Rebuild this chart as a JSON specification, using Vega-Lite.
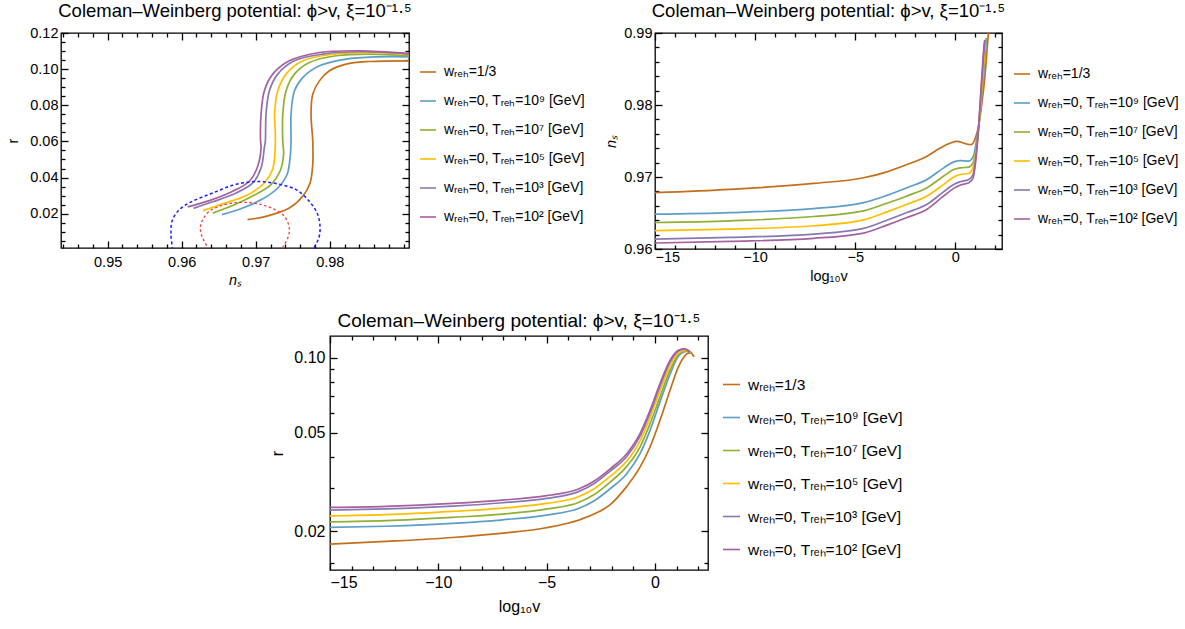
{
  "$schema": "https://vega.github.io/schema/vega-lite/v6.json",
  "background": "white",
  "padding": {"left": 5, "top": 1, "right": 5, "bottom": 5},
  "config": {
    "font": "Liberation Sans",
    "view": {"stroke": "#000", "strokeWidth": 1.3},
    "axis": {"domain": false, "grid": false, "ticks": true, "tickColor": "#000", "tickOpacity": 1, "tickSize": 7, "offset": -7, "tickWidth": 1.3, "zindex": 1, "labelFont": "Liberation Sans", "labelFontSize": 14.5, "labelColor": "#000", "titleFont": "Liberation Sans", "titleFontSize": 14.5, "titleFontWeight": "normal", "titleColor": "#000"},
    "title": {"font": "Liberation Sans", "fontSize": 18.5, "fontWeight": "normal", "color": "#000", "anchor": "middle", "frame": "group", "offset": 4.5},
    "legend": {"title": null, "orient": "none", "symbolType": "stroke", "symbolSize": 256, "symbolStrokeWidth": 1.6, "labelFont": "Liberation Sans", "labelFontSize": 14, "labelColor": "#000", "labelLimit": 400, "labelOffset": 7, "rowPadding": 13}
  },
  "datasets": {
    "p1": [
      {"series": "wᵣₑₕ=1/3", "i": 1, "ns": 0.96889, "r": 0.01667},
      {"series": "wᵣₑₕ=1/3", "i": 2, "ns": 0.97139, "r": 0.0185},
      {"series": "wᵣₑₕ=1/3", "i": 3, "ns": 0.97454, "r": 0.02311},
      {"series": "wᵣₑₕ=1/3", "i": 4, "ns": 0.97635, "r": 0.02961},
      {"series": "wᵣₑₕ=1/3", "i": 5, "ns": 0.97734, "r": 0.037},
      {"series": "wᵣₑₕ=1/3", "i": 6, "ns": 0.9777, "r": 0.04722},
      {"series": "wᵣₑₕ=1/3", "i": 7, "ns": 0.9777, "r": 0.06017},
      {"series": "wᵣₑₕ=1/3", "i": 8, "ns": 0.97747, "r": 0.075},
      {"series": "wᵣₑₕ=1/3", "i": 9, "ns": 0.9777, "r": 0.08611},
      {"series": "wᵣₑₕ=1/3", "i": 10, "ns": 0.9786, "r": 0.0935},
      {"series": "wᵣₑₕ=1/3", "i": 11, "ns": 0.97995, "r": 0.09906},
      {"series": "wᵣₑₕ=1/3", "i": 12, "ns": 0.9822, "r": 0.10278},
      {"series": "wᵣₑₕ=1/3", "i": 13, "ns": 0.98535, "r": 0.10422},
      {"series": "wᵣₑₕ=1/3", "i": 14, "ns": 0.99076, "r": 0.10461},
      {"series": "wᵣₑₕ=0, Tᵣₑₕ=10⁹ [GeV]", "i": 1, "ns": 0.96545, "r": 0.01944},
      {"series": "wᵣₑₕ=0, Tᵣₑₕ=10⁹ [GeV]", "i": 2, "ns": 0.96824, "r": 0.02311},
      {"series": "wᵣₑₕ=0, Tᵣₑₕ=10⁹ [GeV]", "i": 3, "ns": 0.97085, "r": 0.02794},
      {"series": "wᵣₑₕ=0, Tᵣₑₕ=10⁹ [GeV]", "i": 4, "ns": 0.97295, "r": 0.03406},
      {"series": "wᵣₑₕ=0, Tᵣₑₕ=10⁹ [GeV]", "i": 5, "ns": 0.97423, "r": 0.04167},
      {"series": "wᵣₑₕ=0, Tᵣₑₕ=10⁹ [GeV]", "i": 6, "ns": 0.97466, "r": 0.05183},
      {"series": "wᵣₑₕ=0, Tᵣₑₕ=10⁹ [GeV]", "i": 7, "ns": 0.97477, "r": 0.06017},
      {"series": "wᵣₑₕ=0, Tᵣₑₕ=10⁹ [GeV]", "i": 8, "ns": 0.97477, "r": 0.075},
      {"series": "wᵣₑₕ=0, Tᵣₑₕ=10⁹ [GeV]", "i": 9, "ns": 0.97522, "r": 0.08794},
      {"series": "wᵣₑₕ=0, Tᵣₑₕ=10⁹ [GeV]", "i": 10, "ns": 0.97635, "r": 0.09533},
      {"series": "wᵣₑₕ=0, Tᵣₑₕ=10⁹ [GeV]", "i": 11, "ns": 0.9786, "r": 0.10183},
      {"series": "wᵣₑₕ=0, Tᵣₑₕ=10⁹ [GeV]", "i": 12, "ns": 0.9822, "r": 0.10556},
      {"series": "wᵣₑₕ=0, Tᵣₑₕ=10⁹ [GeV]", "i": 13, "ns": 0.98626, "r": 0.10683},
      {"series": "wᵣₑₕ=0, Tᵣₑₕ=10⁹ [GeV]", "i": 14, "ns": 0.99076, "r": 0.10683},
      {"series": "wᵣₑₕ=0, Tᵣₑₕ=10⁷ [GeV]", "i": 1, "ns": 0.96419, "r": 0.02033},
      {"series": "wᵣₑₕ=0, Tᵣₑₕ=10⁷ [GeV]", "i": 2, "ns": 0.96689, "r": 0.0245},
      {"series": "wᵣₑₕ=0, Tᵣₑₕ=10⁷ [GeV]", "i": 3, "ns": 0.96977, "r": 0.03017},
      {"series": "wᵣₑₕ=0, Tᵣₑₕ=10⁷ [GeV]", "i": 4, "ns": 0.97207, "r": 0.03611},
      {"series": "wᵣₑₕ=0, Tᵣₑₕ=10⁷ [GeV]", "i": 5, "ns": 0.97328, "r": 0.0435},
      {"series": "wᵣₑₕ=0, Tᵣₑₕ=10⁷ [GeV]", "i": 6, "ns": 0.97376, "r": 0.05278},
      {"series": "wᵣₑₕ=0, Tᵣₑₕ=10⁷ [GeV]", "i": 7, "ns": 0.97365, "r": 0.06017},
      {"series": "wᵣₑₕ=0, Tᵣₑₕ=10⁷ [GeV]", "i": 8, "ns": 0.97365, "r": 0.075},
      {"series": "wᵣₑₕ=0, Tᵣₑₕ=10⁷ [GeV]", "i": 9, "ns": 0.97409, "r": 0.08794},
      {"series": "wᵣₑₕ=0, Tᵣₑₕ=10⁷ [GeV]", "i": 10, "ns": 0.97522, "r": 0.09722},
      {"series": "wᵣₑₕ=0, Tᵣₑₕ=10⁷ [GeV]", "i": 11, "ns": 0.97724, "r": 0.10367},
      {"series": "wᵣₑₕ=0, Tᵣₑₕ=10⁷ [GeV]", "i": 12, "ns": 0.98085, "r": 0.10739},
      {"series": "wᵣₑₕ=0, Tᵣₑₕ=10⁷ [GeV]", "i": 13, "ns": 0.98535, "r": 0.10833},
      {"series": "wᵣₑₕ=0, Tᵣₑₕ=10⁷ [GeV]", "i": 14, "ns": 0.99076, "r": 0.10739},
      {"series": "wᵣₑₕ=0, Tᵣₑₕ=10⁵ [GeV]", "i": 1, "ns": 0.96288, "r": 0.02167},
      {"series": "wᵣₑₕ=0, Tᵣₑₕ=10⁵ [GeV]", "i": 2, "ns": 0.96554, "r": 0.02544},
      {"series": "wᵣₑₕ=0, Tᵣₑₕ=10⁵ [GeV]", "i": 3, "ns": 0.96889, "r": 0.03033},
      {"series": "wᵣₑₕ=0, Tᵣₑₕ=10⁵ [GeV]", "i": 4, "ns": 0.97105, "r": 0.03656},
      {"series": "wᵣₑₕ=0, Tᵣₑₕ=10⁵ [GeV]", "i": 5, "ns": 0.9723, "r": 0.04489},
      {"series": "wᵣₑₕ=0, Tᵣₑₕ=10⁵ [GeV]", "i": 6, "ns": 0.97262, "r": 0.05572},
      {"series": "wᵣₑₕ=0, Tᵣₑₕ=10⁵ [GeV]", "i": 7, "ns": 0.97265, "r": 0.06389},
      {"series": "wᵣₑₕ=0, Tᵣₑₕ=10⁵ [GeV]", "i": 8, "ns": 0.97255, "r": 0.07572},
      {"series": "wᵣₑₕ=0, Tᵣₑₕ=10⁵ [GeV]", "i": 9, "ns": 0.97297, "r": 0.08794},
      {"series": "wᵣₑₕ=0, Tᵣₑₕ=10⁵ [GeV]", "i": 10, "ns": 0.9741, "r": 0.09722},
      {"series": "wᵣₑₕ=0, Tᵣₑₕ=10⁵ [GeV]", "i": 11, "ns": 0.97635, "r": 0.10461},
      {"series": "wᵣₑₕ=0, Tᵣₑₕ=10⁵ [GeV]", "i": 12, "ns": 0.98018, "r": 0.10811},
      {"series": "wᵣₑₕ=0, Tᵣₑₕ=10⁵ [GeV]", "i": 13, "ns": 0.98518, "r": 0.10906},
      {"series": "wᵣₑₕ=0, Tᵣₑₕ=10⁵ [GeV]", "i": 14, "ns": 0.99072, "r": 0.10833},
      {"series": "wᵣₑₕ=0, Tᵣₑₕ=10³ [GeV]", "i": 1, "ns": 0.9616, "r": 0.02294},
      {"series": "wᵣₑₕ=0, Tᵣₑₕ=10³ [GeV]", "i": 2, "ns": 0.96419, "r": 0.02656},
      {"series": "wᵣₑₕ=0, Tᵣₑₕ=10³ [GeV]", "i": 3, "ns": 0.96734, "r": 0.03144},
      {"series": "wᵣₑₕ=0, Tᵣₑₕ=10³ [GeV]", "i": 4, "ns": 0.9696, "r": 0.037},
      {"series": "wᵣₑₕ=0, Tᵣₑₕ=10³ [GeV]", "i": 5, "ns": 0.97072, "r": 0.04533},
      {"series": "wᵣₑₕ=0, Tᵣₑₕ=10³ [GeV]", "i": 6, "ns": 0.97116, "r": 0.05644},
      {"series": "wᵣₑₕ=0, Tᵣₑₕ=10³ [GeV]", "i": 7, "ns": 0.9713, "r": 0.06017},
      {"series": "wᵣₑₕ=0, Tᵣₑₕ=10³ [GeV]", "i": 8, "ns": 0.97139, "r": 0.075},
      {"series": "wᵣₑₕ=0, Tᵣₑₕ=10³ [GeV]", "i": 9, "ns": 0.97184, "r": 0.08794},
      {"series": "wᵣₑₕ=0, Tᵣₑₕ=10³ [GeV]", "i": 10, "ns": 0.97297, "r": 0.09722},
      {"series": "wᵣₑₕ=0, Tᵣₑₕ=10³ [GeV]", "i": 11, "ns": 0.97522, "r": 0.10461},
      {"series": "wᵣₑₕ=0, Tᵣₑₕ=10³ [GeV]", "i": 12, "ns": 0.97905, "r": 0.10833},
      {"series": "wᵣₑₕ=0, Tᵣₑₕ=10³ [GeV]", "i": 13, "ns": 0.98446, "r": 0.10961},
      {"series": "wᵣₑₕ=0, Tᵣₑₕ=10³ [GeV]", "i": 14, "ns": 0.99076, "r": 0.10833},
      {"series": "wᵣₑₕ=0, Tᵣₑₕ=10² [GeV]", "i": 1, "ns": 0.96081, "r": 0.02378},
      {"series": "wᵣₑₕ=0, Tᵣₑₕ=10² [GeV]", "i": 2, "ns": 0.96373, "r": 0.02722},
      {"series": "wᵣₑₕ=0, Tᵣₑₕ=10² [GeV]", "i": 3, "ns": 0.96689, "r": 0.03239},
      {"series": "wᵣₑₕ=0, Tᵣₑₕ=10² [GeV]", "i": 4, "ns": 0.96914, "r": 0.03794},
      {"series": "wᵣₑₕ=0, Tᵣₑₕ=10² [GeV]", "i": 5, "ns": 0.97027, "r": 0.04628},
      {"series": "wᵣₑₕ=0, Tᵣₑₕ=10² [GeV]", "i": 6, "ns": 0.97072, "r": 0.05644},
      {"series": "wᵣₑₕ=0, Tᵣₑₕ=10² [GeV]", "i": 7, "ns": 0.97065, "r": 0.06017},
      {"series": "wᵣₑₕ=0, Tᵣₑₕ=10² [GeV]", "i": 8, "ns": 0.97072, "r": 0.075},
      {"series": "wᵣₑₕ=0, Tᵣₑₕ=10² [GeV]", "i": 9, "ns": 0.97116, "r": 0.08794},
      {"series": "wᵣₑₕ=0, Tᵣₑₕ=10² [GeV]", "i": 10, "ns": 0.9723, "r": 0.09722},
      {"series": "wᵣₑₕ=0, Tᵣₑₕ=10² [GeV]", "i": 11, "ns": 0.97454, "r": 0.10461},
      {"series": "wᵣₑₕ=0, Tᵣₑₕ=10² [GeV]", "i": 12, "ns": 0.9786, "r": 0.10922},
      {"series": "wᵣₑₕ=0, Tᵣₑₕ=10² [GeV]", "i": 13, "ns": 0.984, "r": 0.11017},
      {"series": "wᵣₑₕ=0, Tᵣₑₕ=10² [GeV]", "i": 14, "ns": 0.99076, "r": 0.10867}
    ],
    "blueEllipse": [
      {"i": 1, "ns": 0.95878, "r": 0.0},
      {"i": 2, "ns": 0.95855, "r": 0.00833},
      {"i": 3, "ns": 0.95869, "r": 0.01572},
      {"i": 4, "ns": 0.95946, "r": 0.02128},
      {"i": 5, "ns": 0.96058, "r": 0.025},
      {"i": 6, "ns": 0.96193, "r": 0.02778},
      {"i": 7, "ns": 0.96419, "r": 0.03144},
      {"i": 8, "ns": 0.96689, "r": 0.03572},
      {"i": 9, "ns": 0.96914, "r": 0.03756},
      {"i": 10, "ns": 0.97095, "r": 0.03767},
      {"i": 11, "ns": 0.97319, "r": 0.03628},
      {"i": 12, "ns": 0.97545, "r": 0.03333},
      {"i": 13, "ns": 0.97724, "r": 0.02683},
      {"i": 14, "ns": 0.97838, "r": 0.01944},
      {"i": 15, "ns": 0.97869, "r": 0.012},
      {"i": 16, "ns": 0.97851, "r": 0.00644},
      {"i": 17, "ns": 0.9777, "r": 0.0}
    ],
    "redEllipse": [
      {"i": 1, "ns": 0.96373, "r": 0.0},
      {"i": 2, "ns": 0.96284, "r": 0.00644},
      {"i": 3, "ns": 0.96251, "r": 0.012},
      {"i": 4, "ns": 0.96284, "r": 0.01667},
      {"i": 5, "ns": 0.96373, "r": 0.02128},
      {"i": 6, "ns": 0.96508, "r": 0.02406},
      {"i": 7, "ns": 0.96689, "r": 0.02589},
      {"i": 8, "ns": 0.96869, "r": 0.02628},
      {"i": 9, "ns": 0.97049, "r": 0.02533},
      {"i": 10, "ns": 0.9723, "r": 0.02278},
      {"i": 11, "ns": 0.97387, "r": 0.0185},
      {"i": 12, "ns": 0.97454, "r": 0.012},
      {"i": 13, "ns": 0.97432, "r": 0.00644},
      {"i": 14, "ns": 0.97342, "r": 0.0}
    ],
    "p2": [
      {"series": "wᵣₑₕ=1/3", "logv": -15, "ns": 0.96782},
      {"series": "wᵣₑₕ=1/3", "logv": -11.25, "ns": 0.96828},
      {"series": "wᵣₑₕ=1/3", "logv": -7.08, "ns": 0.96911},
      {"series": "wᵣₑₕ=1/3", "logv": -4.58, "ns": 0.96989},
      {"series": "wᵣₑₕ=1/3", "logv": -3.415, "ns": 0.97072},
      {"series": "wᵣₑₕ=1/3", "logv": -2.415, "ns": 0.97173},
      {"series": "wᵣₑₕ=1/3", "logv": -1.415, "ns": 0.97289},
      {"series": "wᵣₑₕ=1/3", "logv": -0.75, "ns": 0.97403},
      {"series": "wᵣₑₕ=1/3", "logv": -0.25, "ns": 0.97472},
      {"series": "wᵣₑₕ=1/3", "logv": 0.085, "ns": 0.97496},
      {"series": "wᵣₑₕ=1/3", "logv": 0.5, "ns": 0.97463},
      {"series": "wᵣₑₕ=1/3", "logv": 0.785, "ns": 0.97449},
      {"series": "wᵣₑₕ=1/3", "logv": 1.0, "ns": 0.97541},
      {"series": "wᵣₑₕ=1/3", "logv": 1.17, "ns": 0.97725},
      {"series": "wᵣₑₕ=1/3", "logv": 1.335, "ns": 0.98048},
      {"series": "wᵣₑₕ=1/3", "logv": 1.45, "ns": 0.98324},
      {"series": "wᵣₑₕ=1/3", "logv": 1.55, "ns": 0.98645},
      {"series": "wᵣₑₕ=1/3", "logv": 1.64, "ns": 0.98967},
      {"series": "wᵣₑₕ=1/3", "logv": 1.7, "ns": 0.9915},
      {"series": "wᵣₑₕ=0, Tᵣₑₕ=10⁹ [GeV]", "logv": -15, "ns": 0.96483},
      {"series": "wᵣₑₕ=0, Tᵣₑₕ=10⁹ [GeV]", "logv": -11.25, "ns": 0.96506},
      {"series": "wᵣₑₕ=0, Tᵣₑₕ=10⁹ [GeV]", "logv": -7.08, "ns": 0.96562},
      {"series": "wᵣₑₕ=0, Tᵣₑₕ=10⁹ [GeV]", "logv": -4.58, "ns": 0.96644},
      {"series": "wᵣₑₕ=0, Tᵣₑₕ=10⁹ [GeV]", "logv": -3.415, "ns": 0.96745},
      {"series": "wᵣₑₕ=0, Tᵣₑₕ=10⁹ [GeV]", "logv": -2.415, "ns": 0.96851},
      {"series": "wᵣₑₕ=0, Tᵣₑₕ=10⁹ [GeV]", "logv": -1.415, "ns": 0.96966},
      {"series": "wᵣₑₕ=0, Tᵣₑₕ=10⁹ [GeV]", "logv": -0.58, "ns": 0.97127},
      {"series": "wᵣₑₕ=0, Tᵣₑₕ=10⁹ [GeV]", "logv": -0.08, "ns": 0.9721},
      {"series": "wᵣₑₕ=0, Tᵣₑₕ=10⁹ [GeV]", "logv": 0.25, "ns": 0.97228},
      {"series": "wᵣₑₕ=0, Tᵣₑₕ=10⁹ [GeV]", "logv": 0.67, "ns": 0.9722},
      {"series": "wᵣₑₕ=0, Tᵣₑₕ=10⁹ [GeV]", "logv": 0.9, "ns": 0.97285},
      {"series": "wᵣₑₕ=0, Tᵣₑₕ=10⁹ [GeV]", "logv": 1.05, "ns": 0.975},
      {"series": "wᵣₑₕ=0, Tᵣₑₕ=10⁹ [GeV]", "logv": 1.17, "ns": 0.9772},
      {"series": "wᵣₑₕ=0, Tᵣₑₕ=10⁹ [GeV]", "logv": 1.3, "ns": 0.9805},
      {"series": "wᵣₑₕ=0, Tᵣₑₕ=10⁹ [GeV]", "logv": 1.42, "ns": 0.9845},
      {"series": "wᵣₑₕ=0, Tᵣₑₕ=10⁹ [GeV]", "logv": 1.5, "ns": 0.9875},
      {"series": "wᵣₑₕ=0, Tᵣₑₕ=10⁹ [GeV]", "logv": 1.56, "ns": 0.9893},
      {"series": "wᵣₑₕ=0, Tᵣₑₕ=10⁷ [GeV]", "logv": -15, "ns": 0.96368},
      {"series": "wᵣₑₕ=0, Tᵣₑₕ=10⁷ [GeV]", "logv": -11.25, "ns": 0.96392},
      {"series": "wᵣₑₕ=0, Tᵣₑₕ=10⁷ [GeV]", "logv": -7.08, "ns": 0.96451},
      {"series": "wᵣₑₕ=0, Tᵣₑₕ=10⁷ [GeV]", "logv": -4.58, "ns": 0.9653},
      {"series": "wᵣₑₕ=0, Tᵣₑₕ=10⁷ [GeV]", "logv": -3.415, "ns": 0.96636},
      {"series": "wᵣₑₕ=0, Tᵣₑₕ=10⁷ [GeV]", "logv": -2.415, "ns": 0.96737},
      {"series": "wᵣₑₕ=0, Tᵣₑₕ=10⁷ [GeV]", "logv": -1.415, "ns": 0.96851},
      {"series": "wᵣₑₕ=0, Tᵣₑₕ=10⁷ [GeV]", "logv": -0.58, "ns": 0.97013},
      {"series": "wᵣₑₕ=0, Tᵣₑₕ=10⁷ [GeV]", "logv": -0.08, "ns": 0.97104},
      {"series": "wᵣₑₕ=0, Tᵣₑₕ=10⁷ [GeV]", "logv": 0.25, "ns": 0.97127},
      {"series": "wᵣₑₕ=0, Tᵣₑₕ=10⁷ [GeV]", "logv": 0.67, "ns": 0.97137},
      {"series": "wᵣₑₕ=0, Tᵣₑₕ=10⁷ [GeV]", "logv": 0.885, "ns": 0.972},
      {"series": "wᵣₑₕ=0, Tᵣₑₕ=10⁷ [GeV]", "logv": 1.035, "ns": 0.9738},
      {"series": "wᵣₑₕ=0, Tᵣₑₕ=10⁷ [GeV]", "logv": 1.17, "ns": 0.977},
      {"series": "wᵣₑₕ=0, Tᵣₑₕ=10⁷ [GeV]", "logv": 1.3, "ns": 0.981},
      {"series": "wᵣₑₕ=0, Tᵣₑₕ=10⁷ [GeV]", "logv": 1.42, "ns": 0.9855},
      {"series": "wᵣₑₕ=0, Tᵣₑₕ=10⁷ [GeV]", "logv": 1.5, "ns": 0.9885},
      {"series": "wᵣₑₕ=0, Tᵣₑₕ=10⁷ [GeV]", "logv": 1.53, "ns": 0.9893},
      {"series": "wᵣₑₕ=0, Tᵣₑₕ=10⁵ [GeV]", "logv": -15, "ns": 0.96254},
      {"series": "wᵣₑₕ=0, Tᵣₑₕ=10⁵ [GeV]", "logv": -11.25, "ns": 0.96276},
      {"series": "wᵣₑₕ=0, Tᵣₑₕ=10⁵ [GeV]", "logv": -7.08, "ns": 0.96323},
      {"series": "wᵣₑₕ=0, Tᵣₑₕ=10⁵ [GeV]", "logv": -4.58, "ns": 0.96405},
      {"series": "wᵣₑₕ=0, Tᵣₑₕ=10⁵ [GeV]", "logv": -3.415, "ns": 0.96515},
      {"series": "wᵣₑₕ=0, Tᵣₑₕ=10⁵ [GeV]", "logv": -2.415, "ns": 0.96621},
      {"series": "wᵣₑₕ=0, Tᵣₑₕ=10⁵ [GeV]", "logv": -1.415, "ns": 0.96737},
      {"series": "wᵣₑₕ=0, Tᵣₑₕ=10⁵ [GeV]", "logv": -0.58, "ns": 0.96897},
      {"series": "wᵣₑₕ=0, Tᵣₑₕ=10⁵ [GeV]", "logv": -0.08, "ns": 0.96999},
      {"series": "wᵣₑₕ=0, Tᵣₑₕ=10⁵ [GeV]", "logv": 0.25, "ns": 0.97035},
      {"series": "wᵣₑₕ=0, Tᵣₑₕ=10⁵ [GeV]", "logv": 0.67, "ns": 0.97049},
      {"series": "wᵣₑₕ=0, Tᵣₑₕ=10⁵ [GeV]", "logv": 0.885, "ns": 0.9713},
      {"series": "wᵣₑₕ=0, Tᵣₑₕ=10⁵ [GeV]", "logv": 1.035, "ns": 0.9736},
      {"series": "wᵣₑₕ=0, Tᵣₑₕ=10⁵ [GeV]", "logv": 1.17, "ns": 0.977},
      {"series": "wᵣₑₕ=0, Tᵣₑₕ=10⁵ [GeV]", "logv": 1.3, "ns": 0.9815},
      {"series": "wᵣₑₕ=0, Tᵣₑₕ=10⁵ [GeV]", "logv": 1.42, "ns": 0.9862},
      {"series": "wᵣₑₕ=0, Tᵣₑₕ=10⁵ [GeV]", "logv": 1.5, "ns": 0.9892},
      {"series": "wᵣₑₕ=0, Tᵣₑₕ=10³ [GeV]", "logv": -15, "ns": 0.96138},
      {"series": "wᵣₑₕ=0, Tᵣₑₕ=10³ [GeV]", "logv": -11.25, "ns": 0.96161},
      {"series": "wᵣₑₕ=0, Tᵣₑₕ=10³ [GeV]", "logv": -7.08, "ns": 0.96207},
      {"series": "wᵣₑₕ=0, Tᵣₑₕ=10³ [GeV]", "logv": -4.58, "ns": 0.96286},
      {"series": "wᵣₑₕ=0, Tᵣₑₕ=10³ [GeV]", "logv": -3.415, "ns": 0.964},
      {"series": "wᵣₑₕ=0, Tᵣₑₕ=10³ [GeV]", "logv": -2.415, "ns": 0.96506},
      {"series": "wᵣₑₕ=0, Tᵣₑₕ=10³ [GeV]", "logv": -1.415, "ns": 0.96621},
      {"series": "wᵣₑₕ=0, Tᵣₑₕ=10³ [GeV]", "logv": -0.58, "ns": 0.96796},
      {"series": "wᵣₑₕ=0, Tᵣₑₕ=10³ [GeV]", "logv": -0.08, "ns": 0.96897},
      {"series": "wᵣₑₕ=0, Tᵣₑₕ=10³ [GeV]", "logv": 0.25, "ns": 0.96934},
      {"series": "wᵣₑₕ=0, Tᵣₑₕ=10³ [GeV]", "logv": 0.67, "ns": 0.96966},
      {"series": "wᵣₑₕ=0, Tᵣₑₕ=10³ [GeV]", "logv": 0.885, "ns": 0.97035},
      {"series": "wᵣₑₕ=0, Tᵣₑₕ=10³ [GeV]", "logv": 1.035, "ns": 0.9731},
      {"series": "wᵣₑₕ=0, Tᵣₑₕ=10³ [GeV]", "logv": 1.17, "ns": 0.97725},
      {"series": "wᵣₑₕ=0, Tᵣₑₕ=10³ [GeV]", "logv": 1.3, "ns": 0.9825},
      {"series": "wᵣₑₕ=0, Tᵣₑₕ=10³ [GeV]", "logv": 1.42, "ns": 0.9872},
      {"series": "wᵣₑₕ=0, Tᵣₑₕ=10³ [GeV]", "logv": 1.47, "ns": 0.989},
      {"series": "wᵣₑₕ=0, Tᵣₑₕ=10² [GeV]", "logv": -15, "ns": 0.96083},
      {"series": "wᵣₑₕ=0, Tᵣₑₕ=10² [GeV]", "logv": -11.25, "ns": 0.96106},
      {"series": "wᵣₑₕ=0, Tᵣₑₕ=10² [GeV]", "logv": -7.08, "ns": 0.96148},
      {"series": "wᵣₑₕ=0, Tᵣₑₕ=10² [GeV]", "logv": -4.58, "ns": 0.96221},
      {"series": "wᵣₑₕ=0, Tᵣₑₕ=10² [GeV]", "logv": -3.415, "ns": 0.96332},
      {"series": "wᵣₑₕ=0, Tᵣₑₕ=10² [GeV]", "logv": -2.415, "ns": 0.96437},
      {"series": "wᵣₑₕ=0, Tᵣₑₕ=10² [GeV]", "logv": -1.415, "ns": 0.96552},
      {"series": "wᵣₑₕ=0, Tᵣₑₕ=10² [GeV]", "logv": -0.58, "ns": 0.96737},
      {"series": "wᵣₑₕ=0, Tᵣₑₕ=10² [GeV]", "logv": -0.08, "ns": 0.96842},
      {"series": "wᵣₑₕ=0, Tᵣₑₕ=10² [GeV]", "logv": 0.25, "ns": 0.96889},
      {"series": "wᵣₑₕ=0, Tᵣₑₕ=10² [GeV]", "logv": 0.67, "ns": 0.9692},
      {"series": "wᵣₑₕ=0, Tᵣₑₕ=10² [GeV]", "logv": 0.885, "ns": 0.96989},
      {"series": "wᵣₑₕ=0, Tᵣₑₕ=10² [GeV]", "logv": 1.035, "ns": 0.97265},
      {"series": "wᵣₑₕ=0, Tᵣₑₕ=10² [GeV]", "logv": 1.17, "ns": 0.97725},
      {"series": "wᵣₑₕ=0, Tᵣₑₕ=10² [GeV]", "logv": 1.3, "ns": 0.983},
      {"series": "wᵣₑₕ=0, Tᵣₑₕ=10² [GeV]", "logv": 1.42, "ns": 0.9878},
      {"series": "wᵣₑₕ=0, Tᵣₑₕ=10² [GeV]", "logv": 1.47, "ns": 0.989}
    ],
    "p3": [
      {"series": "wᵣₑₕ=1/3", "logv": -15, "r": 0.01778},
      {"series": "wᵣₑₕ=1/3", "logv": -12.42, "r": 0.01824},
      {"series": "wᵣₑₕ=1/3", "logv": -9.34, "r": 0.01892},
      {"series": "wᵣₑₕ=1/3", "logv": -7.02, "r": 0.0197},
      {"series": "wᵣₑₕ=1/3", "logv": -5.01, "r": 0.0207},
      {"series": "wᵣₑₕ=1/3", "logv": -3.47, "r": 0.0223},
      {"series": "wᵣₑₕ=1/3", "logv": -2.55, "r": 0.0241},
      {"series": "wᵣₑₕ=1/3", "logv": -2.08, "r": 0.0256},
      {"series": "wᵣₑₕ=1/3", "logv": -1.31, "r": 0.0303},
      {"series": "wᵣₑₕ=1/3", "logv": -0.695, "r": 0.0362},
      {"series": "wᵣₑₕ=1/3", "logv": -0.23, "r": 0.04363},
      {"series": "wᵣₑₕ=1/3", "logv": 0.23, "r": 0.05588},
      {"series": "wᵣₑₕ=1/3", "logv": 0.695, "r": 0.07384},
      {"series": "wᵣₑₕ=1/3", "logv": 1.08, "r": 0.0917},
      {"series": "wᵣₑₕ=1/3", "logv": 1.34, "r": 0.1006},
      {"series": "wᵣₑₕ=1/3", "logv": 1.54, "r": 0.1044},
      {"series": "wᵣₑₕ=1/3", "logv": 1.66, "r": 0.1045},
      {"series": "wᵣₑₕ=1/3", "logv": 1.77, "r": 0.1021},
      {"series": "wᵣₑₕ=1/3", "logv": 1.82, "r": 0.101},
      {"series": "wᵣₑₕ=0, Tᵣₑₕ=10⁹ [GeV]", "logv": -15, "r": 0.02077},
      {"series": "wᵣₑₕ=0, Tᵣₑₕ=10⁹ [GeV]", "logv": -12.42, "r": 0.021},
      {"series": "wᵣₑₕ=0, Tᵣₑₕ=10⁹ [GeV]", "logv": -9.34, "r": 0.02155},
      {"series": "wᵣₑₕ=0, Tᵣₑₕ=10⁹ [GeV]", "logv": -7.02, "r": 0.02229},
      {"series": "wᵣₑₕ=0, Tᵣₑₕ=10⁹ [GeV]", "logv": -5.01, "r": 0.02328},
      {"series": "wᵣₑₕ=0, Tᵣₑₕ=10⁹ [GeV]", "logv": -3.5, "r": 0.02479},
      {"series": "wᵣₑₕ=0, Tᵣₑₕ=10⁹ [GeV]", "logv": -2.8, "r": 0.02659},
      {"series": "wᵣₑₕ=0, Tᵣₑₕ=10⁹ [GeV]", "logv": -2.08, "r": 0.02965},
      {"series": "wᵣₑₕ=0, Tᵣₑₕ=10⁹ [GeV]", "logv": -1.31, "r": 0.03405},
      {"series": "wᵣₑₕ=0, Tᵣₑₕ=10⁹ [GeV]", "logv": -0.695, "r": 0.04102},
      {"series": "wᵣₑₕ=0, Tᵣₑₕ=10⁹ [GeV]", "logv": -0.23, "r": 0.05093},
      {"series": "wᵣₑₕ=0, Tᵣₑₕ=10⁹ [GeV]", "logv": 0.23, "r": 0.0663},
      {"series": "wᵣₑₕ=0, Tᵣₑₕ=10⁹ [GeV]", "logv": 0.695, "r": 0.08564},
      {"series": "wᵣₑₕ=0, Tᵣₑₕ=10⁹ [GeV]", "logv": 1.08, "r": 0.1013},
      {"series": "wᵣₑₕ=0, Tᵣₑₕ=10⁹ [GeV]", "logv": 1.34, "r": 0.1054},
      {"series": "wᵣₑₕ=0, Tᵣₑₕ=10⁹ [GeV]", "logv": 1.54, "r": 0.1062},
      {"series": "wᵣₑₕ=0, Tᵣₑₕ=10⁹ [GeV]", "logv": 1.72, "r": 0.1044},
      {"series": "wᵣₑₕ=0, Tᵣₑₕ=10⁷ [GeV]", "logv": -15, "r": 0.02188},
      {"series": "wᵣₑₕ=0, Tᵣₑₕ=10⁷ [GeV]", "logv": -12.42, "r": 0.02212},
      {"series": "wᵣₑₕ=0, Tᵣₑₕ=10⁷ [GeV]", "logv": -9.34, "r": 0.0228},
      {"series": "wᵣₑₕ=0, Tᵣₑₕ=10⁷ [GeV]", "logv": -7.02, "r": 0.0235},
      {"series": "wᵣₑₕ=0, Tᵣₑₕ=10⁷ [GeV]", "logv": -5.01, "r": 0.0246},
      {"series": "wᵣₑₕ=0, Tᵣₑₕ=10⁷ [GeV]", "logv": -3.5, "r": 0.02624},
      {"series": "wᵣₑₕ=0, Tᵣₑₕ=10⁷ [GeV]", "logv": -2.8, "r": 0.02819},
      {"series": "wᵣₑₕ=0, Tᵣₑₕ=10⁷ [GeV]", "logv": -2.08, "r": 0.03153},
      {"series": "wᵣₑₕ=0, Tᵣₑₕ=10⁷ [GeV]", "logv": -1.31, "r": 0.03648},
      {"series": "wᵣₑₕ=0, Tᵣₑₕ=10⁷ [GeV]", "logv": -0.695, "r": 0.04363},
      {"series": "wᵣₑₕ=0, Tᵣₑₕ=10⁷ [GeV]", "logv": -0.23, "r": 0.05418},
      {"series": "wᵣₑₕ=0, Tᵣₑₕ=10⁷ [GeV]", "logv": 0.23, "r": 0.06941},
      {"series": "wᵣₑₕ=0, Tᵣₑₕ=10⁷ [GeV]", "logv": 0.695, "r": 0.08889},
      {"series": "wᵣₑₕ=0, Tᵣₑₕ=10⁷ [GeV]", "logv": 1.08, "r": 0.1031},
      {"series": "wᵣₑₕ=0, Tᵣₑₕ=10⁷ [GeV]", "logv": 1.34, "r": 0.1064},
      {"series": "wᵣₑₕ=0, Tᵣₑₕ=10⁷ [GeV]", "logv": 1.54, "r": 0.1064},
      {"series": "wᵣₑₕ=0, Tᵣₑₕ=10⁷ [GeV]", "logv": 1.68, "r": 0.1048},
      {"series": "wᵣₑₕ=0, Tᵣₑₕ=10⁵ [GeV]", "logv": -15, "r": 0.02312},
      {"series": "wᵣₑₕ=0, Tᵣₑₕ=10⁵ [GeV]", "logv": -12.42, "r": 0.02337},
      {"series": "wᵣₑₕ=0, Tᵣₑₕ=10⁵ [GeV]", "logv": -9.34, "r": 0.0241},
      {"series": "wᵣₑₕ=0, Tᵣₑₕ=10⁵ [GeV]", "logv": -7.02, "r": 0.02483},
      {"series": "wᵣₑₕ=0, Tᵣₑₕ=10⁵ [GeV]", "logv": -5.01, "r": 0.02594},
      {"series": "wᵣₑₕ=0, Tᵣₑₕ=10⁵ [GeV]", "logv": -3.5, "r": 0.02766},
      {"series": "wᵣₑₕ=0, Tᵣₑₕ=10⁵ [GeV]", "logv": -2.8, "r": 0.02972},
      {"series": "wᵣₑₕ=0, Tᵣₑₕ=10⁵ [GeV]", "logv": -2.08, "r": 0.03322},
      {"series": "wᵣₑₕ=0, Tᵣₑₕ=10⁵ [GeV]", "logv": -1.31, "r": 0.03831},
      {"series": "wᵣₑₕ=0, Tᵣₑₕ=10⁵ [GeV]", "logv": -0.695, "r": 0.04613},
      {"series": "wᵣₑₕ=0, Tᵣₑₕ=10⁵ [GeV]", "logv": -0.23, "r": 0.05727},
      {"series": "wᵣₑₕ=0, Tᵣₑₕ=10⁵ [GeV]", "logv": 0.23, "r": 0.07338},
      {"series": "wᵣₑₕ=0, Tᵣₑₕ=10⁵ [GeV]", "logv": 0.695, "r": 0.09227},
      {"series": "wᵣₑₕ=0, Tᵣₑₕ=10⁵ [GeV]", "logv": 1.08, "r": 0.1044},
      {"series": "wᵣₑₕ=0, Tᵣₑₕ=10⁵ [GeV]", "logv": 1.34, "r": 0.1071},
      {"series": "wᵣₑₕ=0, Tᵣₑₕ=10⁵ [GeV]", "logv": 1.54, "r": 0.1068},
      {"series": "wᵣₑₕ=0, Tᵣₑₕ=10⁵ [GeV]", "logv": 1.66, "r": 0.1053},
      {"series": "wᵣₑₕ=0, Tᵣₑₕ=10³ [GeV]", "logv": -15, "r": 0.02438},
      {"series": "wᵣₑₕ=0, Tᵣₑₕ=10³ [GeV]", "logv": -12.42, "r": 0.02465},
      {"series": "wᵣₑₕ=0, Tᵣₑₕ=10³ [GeV]", "logv": -9.34, "r": 0.0253},
      {"series": "wᵣₑₕ=0, Tᵣₑₕ=10³ [GeV]", "logv": -7.02, "r": 0.0261},
      {"series": "wᵣₑₕ=0, Tᵣₑₕ=10³ [GeV]", "logv": -5.01, "r": 0.02716},
      {"series": "wᵣₑₕ=0, Tᵣₑₕ=10³ [GeV]", "logv": -3.5, "r": 0.029},
      {"series": "wᵣₑₕ=0, Tᵣₑₕ=10³ [GeV]", "logv": -2.8, "r": 0.03119},
      {"series": "wᵣₑₕ=0, Tᵣₑₕ=10³ [GeV]", "logv": -2.08, "r": 0.03491},
      {"series": "wᵣₑₕ=0, Tᵣₑₕ=10³ [GeV]", "logv": -1.31, "r": 0.03999},
      {"series": "wᵣₑₕ=0, Tᵣₑₕ=10³ [GeV]", "logv": -0.695, "r": 0.04817},
      {"series": "wᵣₑₕ=0, Tᵣₑₕ=10³ [GeV]", "logv": -0.23, "r": 0.0598},
      {"series": "wᵣₑₕ=0, Tᵣₑₕ=10³ [GeV]", "logv": 0.23, "r": 0.07662},
      {"series": "wᵣₑₕ=0, Tᵣₑₕ=10³ [GeV]", "logv": 0.695, "r": 0.09575},
      {"series": "wᵣₑₕ=0, Tᵣₑₕ=10³ [GeV]", "logv": 1.08, "r": 0.1064},
      {"series": "wᵣₑₕ=0, Tᵣₑₕ=10³ [GeV]", "logv": 1.34, "r": 0.1084},
      {"series": "wᵣₑₕ=0, Tᵣₑₕ=10³ [GeV]", "logv": 1.54, "r": 0.107},
      {"series": "wᵣₑₕ=0, Tᵣₑₕ=10³ [GeV]", "logv": 1.62, "r": 0.1055},
      {"series": "wᵣₑₕ=0, Tᵣₑₕ=10² [GeV]", "logv": -15, "r": 0.025},
      {"series": "wᵣₑₕ=0, Tᵣₑₕ=10² [GeV]", "logv": -12.42, "r": 0.02525},
      {"series": "wᵣₑₕ=0, Tᵣₑₕ=10² [GeV]", "logv": -9.34, "r": 0.02594},
      {"series": "wᵣₑₕ=0, Tᵣₑₕ=10² [GeV]", "logv": -7.02, "r": 0.02676},
      {"series": "wᵣₑₕ=0, Tᵣₑₕ=10² [GeV]", "logv": -5.01, "r": 0.02786},
      {"series": "wᵣₑₕ=0, Tᵣₑₕ=10² [GeV]", "logv": -3.5, "r": 0.02971},
      {"series": "wᵣₑₕ=0, Tᵣₑₕ=10² [GeV]", "logv": -2.8, "r": 0.03192},
      {"series": "wᵣₑₕ=0, Tᵣₑₕ=10² [GeV]", "logv": -2.08, "r": 0.03567},
      {"series": "wᵣₑₕ=0, Tᵣₑₕ=10² [GeV]", "logv": -1.31, "r": 0.04102},
      {"series": "wᵣₑₕ=0, Tᵣₑₕ=10² [GeV]", "logv": -0.695, "r": 0.04937},
      {"series": "wᵣₑₕ=0, Tᵣₑₕ=10² [GeV]", "logv": -0.23, "r": 0.06132},
      {"series": "wᵣₑₕ=0, Tᵣₑₕ=10² [GeV]", "logv": 0.23, "r": 0.07855},
      {"series": "wᵣₑₕ=0, Tᵣₑₕ=10² [GeV]", "logv": 0.695, "r": 0.09755},
      {"series": "wᵣₑₕ=0, Tᵣₑₕ=10² [GeV]", "logv": 1.08, "r": 0.1071},
      {"series": "wᵣₑₕ=0, Tᵣₑₕ=10² [GeV]", "logv": 1.34, "r": 0.1087},
      {"series": "wᵣₑₕ=0, Tᵣₑₕ=10² [GeV]", "logv": 1.54, "r": 0.1068},
      {"series": "wᵣₑₕ=0, Tᵣₑₕ=10² [GeV]", "logv": 1.6, "r": 0.1052}
    ]
  },
  "resolve": {"scale": {"color": "independent"}, "legend": {"color": "independent"}},
  "spacing": 23,
  "vconcat": [
    {
      "resolve": {"scale": {"color": "independent"}, "legend": {"color": "independent"}},
      "spacing": 17,
      "hconcat": [
        {
          "width": 348,
          "height": 215,
          "title": {"text": "Coleman–Weinberg potential: ϕ>v, ξ=10⁻¹·⁵"},
          "resolve": {"axis": {"x": "independent", "y": "independent"}},
          "layer": [
            {
              "data": {"name": "p1"},
              "mark": {"type": "line", "strokeWidth": 1.7, "interpolate": "catmull-rom", "clip": true},
              "encoding": {
                "x": {"field": "ns", "type": "quantitative", "scale": {"domain": [0.9437, 0.9907], "nice": false, "zero": false},
                      "axis": {"values": [0.95, 0.96, 0.97, 0.98], "format": ".2f", "title": "nₛ", "titleFontStyle": "italic", "labelPadding": 7, "titlePadding": 5}},
                "y": {"field": "r", "type": "quantitative", "scale": {"domain": [0.001, 0.12], "nice": false, "zero": false},
                      "axis": {"values": [0.02, 0.04, 0.06, 0.08, 0.1, 0.12], "format": ".2f", "title": "r", "labelPadding": 3, "titlePadding": 9}},
                "order": {"field": "i", "type": "quantitative"},
                "color": {"field": "series", "type": "nominal",
                  "scale": {"domain": ["wᵣₑₕ=1/3", "wᵣₑₕ=0, Tᵣₑₕ=10⁹ [GeV]", "wᵣₑₕ=0, Tᵣₑₕ=10⁷ [GeV]", "wᵣₑₕ=0, Tᵣₑₕ=10⁵ [GeV]", "wᵣₑₕ=0, Tᵣₑₕ=10³ [GeV]", "wᵣₑₕ=0, Tᵣₑₕ=10² [GeV]"],
                            "range": ["#C56E1A", "#5D9EC7", "#8FB032", "#FFBF00", "#8778B3", "#A5609D"]},
                  "legend": {"legendX": 358, "legendY": 30}}
              }
            },
            {
              "data": {"name": "blueEllipse"},
              "mark": {"type": "line", "color": "#1c1cff", "strokeWidth": 1.5, "strokeDash": [3, 2.5], "interpolate": "catmull-rom", "clip": true},
              "encoding": {
                "x": {"field": "ns", "type": "quantitative", "scale": {"domain": [0.9437, 0.9907], "nice": false, "zero": false},
                      "axis": {"orient": "top", "values": [0.95, 0.96, 0.97, 0.98], "labels": false, "title": null}},
                "y": {"field": "r", "type": "quantitative", "scale": {"domain": [0.001, 0.12], "nice": false, "zero": false},
                      "axis": {"orient": "right", "values": [0.02, 0.04, 0.06, 0.08, 0.1, 0.12], "labels": false, "title": null}},
                "order": {"field": "i", "type": "quantitative"}
              }
            },
            {
              "data": {"name": "redEllipse"},
              "mark": {"type": "line", "color": "#f03c3c", "strokeWidth": 1.3, "strokeDash": [2.5, 2.5], "interpolate": "catmull-rom", "clip": true},
              "encoding": {
                "x": {"field": "ns", "type": "quantitative", "scale": {"domain": [0.9437, 0.9907], "nice": false, "zero": false},
                      "axis": {"orient": "bottom", "values": [0.944, 0.946, 0.948, 0.952, 0.954, 0.956, 0.958, 0.962, 0.964, 0.966, 0.968, 0.972, 0.974, 0.976, 0.978, 0.982, 0.984, 0.986, 0.988, 0.99], "labels": false, "title": null, "tickSize": 4, "offset": -4}},
                "y": {"field": "r", "type": "quantitative", "scale": {"domain": [0.001, 0.12], "nice": false, "zero": false},
                      "axis": {"orient": "left", "values": [0.005, 0.01, 0.015, 0.025, 0.03, 0.035, 0.045, 0.05, 0.055, 0.065, 0.07, 0.075, 0.085, 0.09, 0.095, 0.105, 0.11, 0.115], "labels": false, "title": null, "tickSize": 4, "offset": -4}},
                "order": {"field": "i", "type": "quantitative"}
              }
            },
            {
              "data": {"name": "redEllipse"},
              "mark": {"type": "line", "strokeOpacity": 0, "clip": true},
              "encoding": {
                "x": {"field": "ns", "type": "quantitative", "scale": {"domain": [0.9437, 0.9907], "nice": false, "zero": false},
                      "axis": {"orient": "top", "values": [0.944, 0.946, 0.948, 0.952, 0.954, 0.956, 0.958, 0.962, 0.964, 0.966, 0.968, 0.972, 0.974, 0.976, 0.978, 0.982, 0.984, 0.986, 0.988, 0.99], "labels": false, "title": null, "tickSize": 4, "offset": -4}},
                "y": {"field": "r", "type": "quantitative", "scale": {"domain": [0.001, 0.12], "nice": false, "zero": false},
                      "axis": {"orient": "right", "values": [0.005, 0.01, 0.015, 0.025, 0.03, 0.035, 0.045, 0.05, 0.055, 0.065, 0.07, 0.075, 0.085, 0.09, 0.095, 0.105, 0.11, 0.115], "labels": false, "title": null, "tickSize": 4, "offset": -4}},
                "order": {"field": "i", "type": "quantitative"}
              }
            }
          ]
        },
        {
          "width": 347,
          "height": 216,
          "title": {"text": "Coleman–Weinberg potential: ϕ>v, ξ=10⁻¹·⁵"},
          "data": {"name": "p2"},
          "resolve": {"axis": {"x": "independent", "y": "independent"}},
          "layer": [
            {
              "mark": {"type": "line", "strokeWidth": 1.7, "interpolate": "monotone", "clip": true},
              "encoding": {
                "x": {"field": "logv", "type": "quantitative", "scale": {"domain": [-15, 2.33], "nice": false, "zero": false},
                      "axis": {"values": [-15, -10, -5, 0], "format": "d", "title": "log₁₀v", "labelPadding": 1, "titlePadding": 6}},
                "y": {"field": "ns", "type": "quantitative", "scale": {"domain": [0.96, 0.99], "nice": false, "zero": false},
                      "axis": {"values": [0.96, 0.97, 0.98, 0.99], "format": ".2f", "title": "nₛ", "titleFontStyle": "italic", "labelPadding": 3, "titlePadding": 5}},
                "color": {"field": "series", "type": "nominal",
                  "scale": {"domain": ["wᵣₑₕ=1/3", "wᵣₑₕ=0, Tᵣₑₕ=10⁹ [GeV]", "wᵣₑₕ=0, Tᵣₑₕ=10⁷ [GeV]", "wᵣₑₕ=0, Tᵣₑₕ=10⁵ [GeV]", "wᵣₑₕ=0, Tᵣₑₕ=10³ [GeV]", "wᵣₑₕ=0, Tᵣₑₕ=10² [GeV]"],
                            "range": ["#C56E1A", "#5D9EC7", "#8FB032", "#FFBF00", "#8778B3", "#A5609D"]},
                  "legend": {"legendX": 358, "legendY": 32}}
              }
            },
            {
              "mark": {"type": "line", "strokeOpacity": 0, "clip": true},
              "encoding": {
                "x": {"field": "logv", "type": "quantitative", "scale": {"domain": [-15, 2.33], "nice": false, "zero": false},
                      "axis": {"orient": "top", "values": [-15, -10, -5, 0], "labels": false, "title": null}},
                "y": {"field": "ns", "type": "quantitative", "scale": {"domain": [0.96, 0.99], "nice": false, "zero": false},
                      "axis": {"orient": "right", "values": [0.96, 0.97, 0.98, 0.99], "labels": false, "title": null}}
              }
            },
            {
              "mark": {"type": "line", "strokeOpacity": 0, "clip": true},
              "encoding": {
                "x": {"field": "logv", "type": "quantitative", "scale": {"domain": [-15, 2.33], "nice": false, "zero": false},
                      "axis": {"orient": "bottom", "values": [-14, -13, -12, -11, -9, -8, -7, -6, -4, -3, -2, -1, 1, 2], "labels": false, "title": null, "tickSize": 4, "offset": -4}},
                "y": {"field": "ns", "type": "quantitative", "scale": {"domain": [0.96, 0.99], "nice": false, "zero": false},
                      "axis": {"orient": "left", "values": [0.962, 0.964, 0.966, 0.968, 0.972, 0.974, 0.976, 0.978, 0.982, 0.984, 0.986, 0.988], "labels": false, "title": null, "tickSize": 4, "offset": -4}}
              }
            },
            {
              "mark": {"type": "line", "strokeOpacity": 0, "clip": true},
              "encoding": {
                "x": {"field": "logv", "type": "quantitative", "scale": {"domain": [-15, 2.33], "nice": false, "zero": false},
                      "axis": {"orient": "top", "values": [-14, -13, -12, -11, -9, -8, -7, -6, -4, -3, -2, -1, 1, 2], "labels": false, "title": null, "tickSize": 4, "offset": -4}},
                "y": {"field": "ns", "type": "quantitative", "scale": {"domain": [0.96, 0.99], "nice": false, "zero": false},
                      "axis": {"orient": "right", "values": [0.962, 0.964, 0.966, 0.968, 0.972, 0.974, 0.976, 0.978, 0.982, 0.984, 0.986, 0.988], "labels": false, "title": null, "tickSize": 4, "offset": -4}}
              }
            }
          ]
        }
      ]
    },
    {
      "spacing": 0,
      "resolve": {"scale": {"color": "independent"}, "legend": {"color": "independent"}},
      "hconcat": [
        {
          "width": 208,
          "height": 10,
          "view": {"stroke": null},
          "data": {"values": []},
          "mark": {"type": "point", "opacity": 0}
        },
        {
          "width": 378,
          "height": 234,
          "title": {"text": "Coleman–Weinberg potential: ϕ>v, ξ=10⁻¹·⁵", "fontSize": 19, "offset": 4.5},
          "data": {"name": "p3"},
          "resolve": {"axis": {"x": "independent", "y": "independent"}},
          "layer": [
            {
              "mark": {"type": "line", "strokeWidth": 1.7, "interpolate": "monotone", "clip": true},
              "encoding": {
                "x": {"field": "logv", "type": "quantitative", "scale": {"domain": [-15, 2.45], "nice": false, "zero": false},
                      "axis": {"values": [-15, -10, -5, 0], "format": "d", "title": "log₁₀v", "labelPadding": 4, "titlePadding": 8, "labelFontSize": 16, "titleFontSize": 16}},
                "y": {"field": "r", "type": "quantitative", "scale": {"type": "log", "domain": [0.014, 0.1223], "nice": false},
                      "axis": {"values": [0.02, 0.05, 0.1], "format": ".2f", "title": "r", "labelPadding": 5, "titlePadding": 8, "labelFontSize": 16, "titleFontSize": 16}},
                "color": {"field": "series", "type": "nominal",
                  "scale": {"domain": ["wᵣₑₕ=1/3", "wᵣₑₕ=0, Tᵣₑₕ=10⁹ [GeV]", "wᵣₑₕ=0, Tᵣₑₕ=10⁷ [GeV]", "wᵣₑₕ=0, Tᵣₑₕ=10⁵ [GeV]", "wᵣₑₕ=0, Tᵣₑₕ=10³ [GeV]", "wᵣₑₕ=0, Tᵣₑₕ=10² [GeV]"],
                            "range": ["#C56E1A", "#5D9EC7", "#8FB032", "#FFBF00", "#8778B3", "#A5609D"]},
                  "legend": {"legendX": 392, "legendY": 39, "labelFontSize": 15.5, "rowPadding": 15, "symbolSize": 289}}
              }
            },
            {
              "mark": {"type": "line", "strokeOpacity": 0, "clip": true},
              "encoding": {
                "x": {"field": "logv", "type": "quantitative", "scale": {"domain": [-15, 2.45], "nice": false, "zero": false},
                      "axis": {"orient": "top", "values": [-15, -10, -5, 0], "labels": false, "title": null}},
                "y": {"field": "r", "type": "quantitative", "scale": {"type": "log", "domain": [0.014, 0.1223], "nice": false},
                      "axis": {"orient": "right", "values": [0.02, 0.05, 0.1], "labels": false, "title": null}}
              }
            },
            {
              "mark": {"type": "line", "strokeOpacity": 0, "clip": true},
              "encoding": {
                "x": {"field": "logv", "type": "quantitative", "scale": {"domain": [-15, 2.45], "nice": false, "zero": false},
                      "axis": {"orient": "bottom", "values": [-14, -13, -12, -11, -9, -8, -7, -6, -4, -3, -2, -1, 1, 2], "labels": false, "title": null, "tickSize": 4, "offset": -4}},
                "y": {"field": "r", "type": "quantitative", "scale": {"type": "log", "domain": [0.014, 0.1223], "nice": false},
                      "axis": {"orient": "left", "values": [0.015, 0.03, 0.04, 0.06, 0.07, 0.08, 0.09], "labels": false, "title": null, "tickSize": 4, "offset": -4}}
              }
            },
            {
              "mark": {"type": "line", "strokeOpacity": 0, "clip": true},
              "encoding": {
                "x": {"field": "logv", "type": "quantitative", "scale": {"domain": [-15, 2.45], "nice": false, "zero": false},
                      "axis": {"orient": "top", "values": [-14, -13, -12, -11, -9, -8, -7, -6, -4, -3, -2, -1, 1, 2], "labels": false, "title": null, "tickSize": 4, "offset": -4}},
                "y": {"field": "r", "type": "quantitative", "scale": {"type": "log", "domain": [0.014, 0.1223], "nice": false},
                      "axis": {"orient": "right", "values": [0.015, 0.03, 0.04, 0.06, 0.07, 0.08, 0.09], "labels": false, "title": null, "tickSize": 4, "offset": -4}}
              }
            }
          ]
        }
      ]
    }
  ]
}
